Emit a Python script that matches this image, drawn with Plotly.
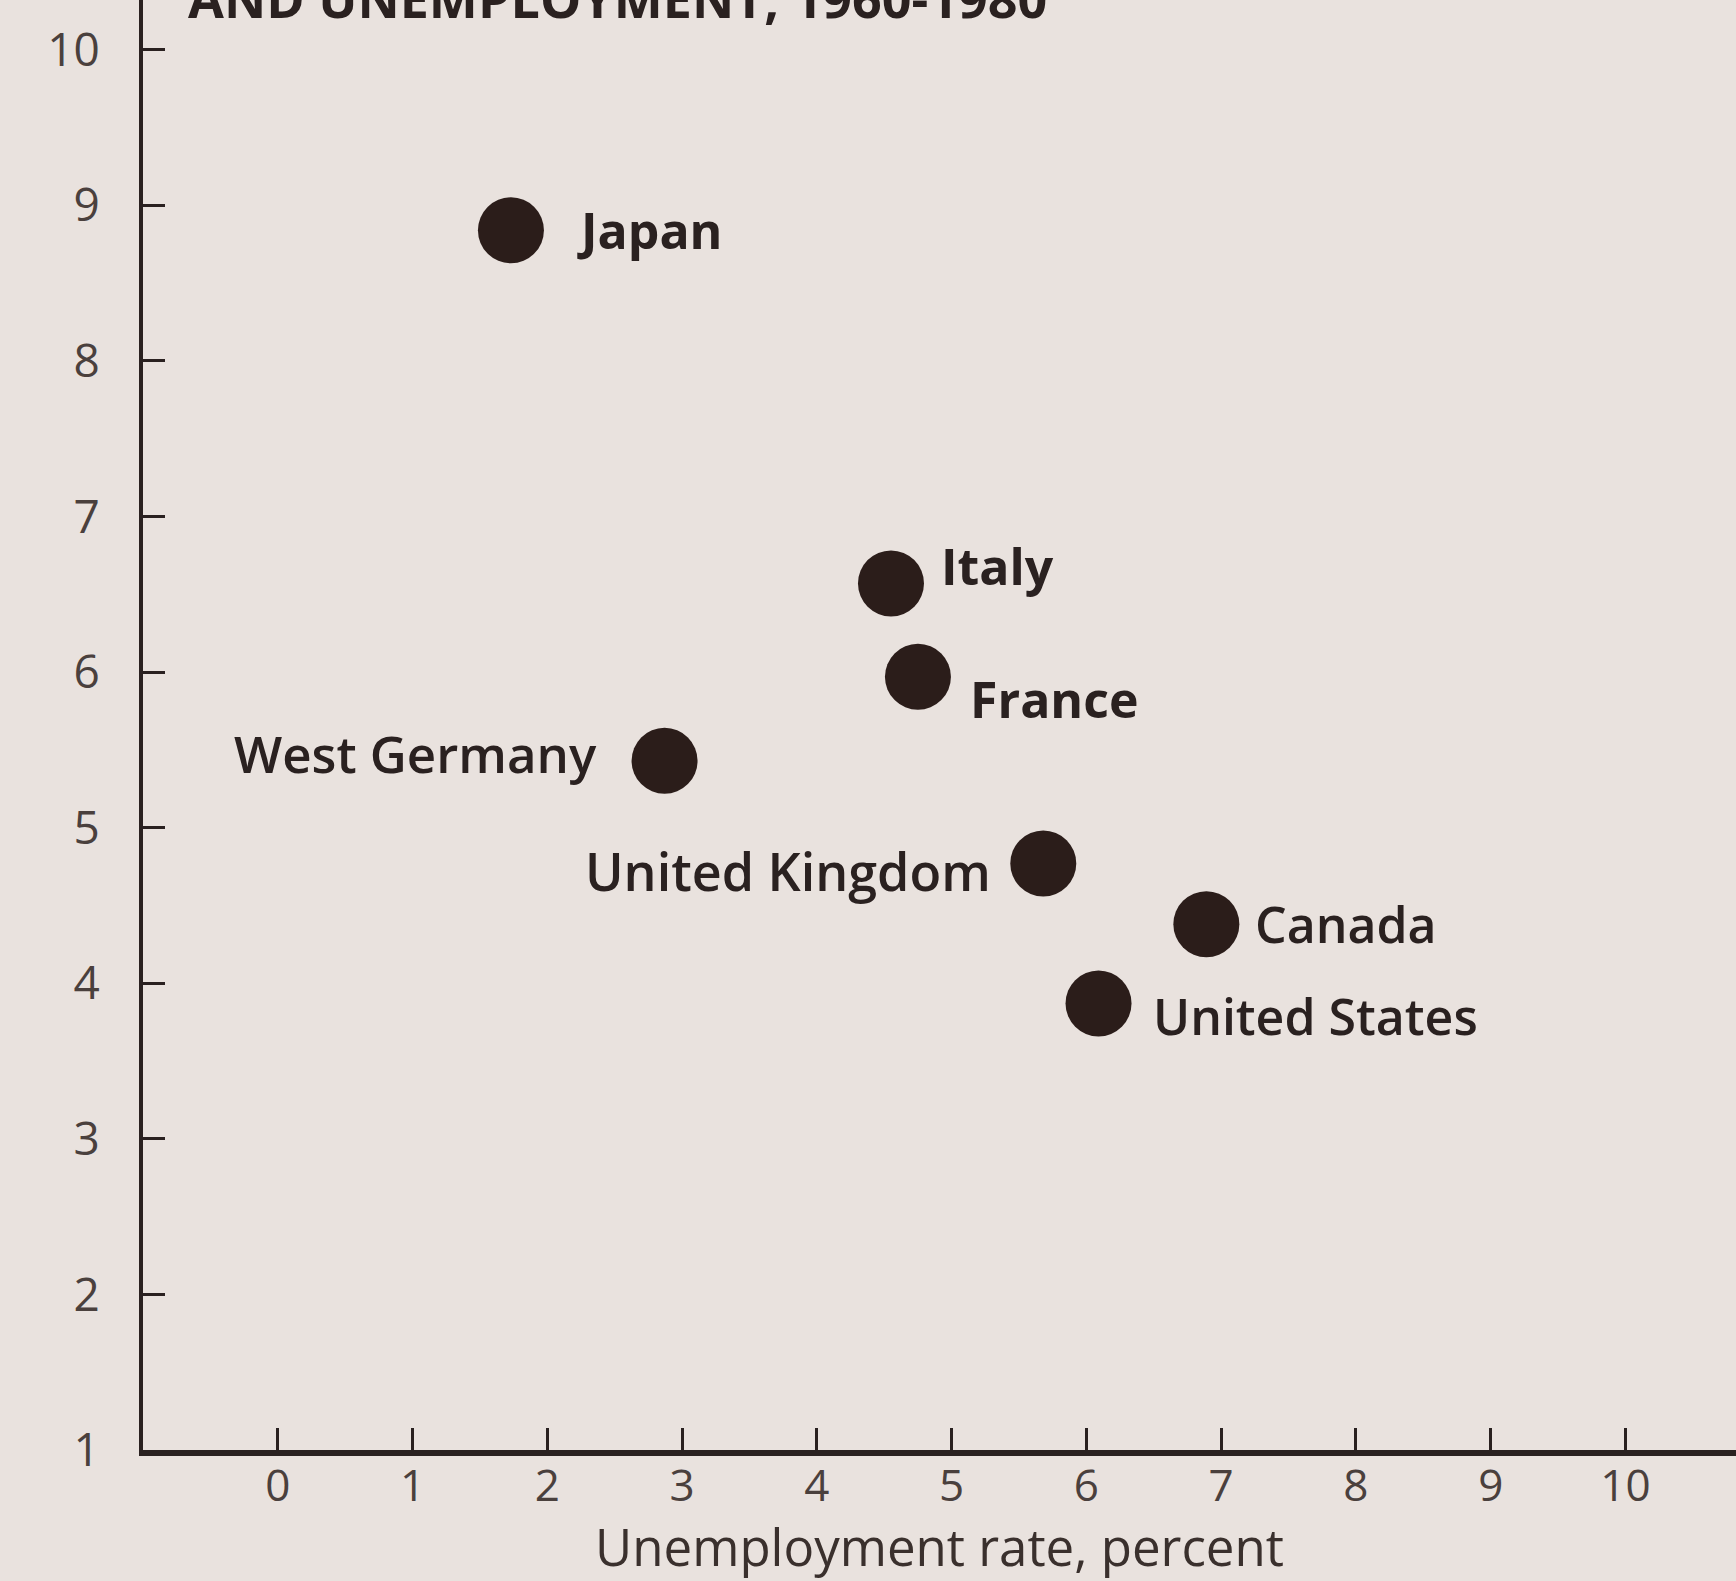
import plotly.graph_objects as go

# ---- data ----
countries = ["Japan", "Italy", "France", "West Germany", "United Kingdom", "Canada", "United States"]
unemployment = [1.73, 4.55, 4.75, 2.87, 5.68, 6.89, 6.09]
productivity = [8.84, 6.57, 5.97, 5.43, 4.77, 4.38, 3.87]

x_ticks = list(range(0, 11))
y_ticks = list(range(1, 11))

x_title = "Unemployment rate, percent"
top_title = "AND UNEMPLOYMENT, 1960-1980"

# ---- label styling (offsets in px, anchors) ----
label_anchor = ["left", "left", "left", "right", "right", "left", "left"]
label_xshift = [64, 48, 50, -66, -50, 47, 52]
label_yshift = [0, 17, -22, 8, -7, 0, -13]
label_weight = [700, 700, 700, 600, 600, 600, 600]
label_size = [50, 50, 50, 51, 52, 50, 50]

ink = "#2a2120"
paper = "#e9e2de"

fig = go.Figure()
fig.add_trace(go.Scatter(
    x=unemployment, y=productivity, mode="markers",
    marker=dict(size=66, color="#2b1d1a", line=dict(width=0)),
    hoverinfo="text", text=countries, showlegend=False,
))

annotations = []
for c, xv, yv, anc, xs, ys, w, s in zip(countries, unemployment, productivity,
                                         label_anchor, label_xshift, label_yshift,
                                         label_weight, label_size):
    annotations.append(dict(
        x=xv, y=yv, xref="x", yref="y", text=c, showarrow=False,
        xanchor=anc, yanchor="middle", xshift=xs, yshift=ys,
        font=dict(family="Open Sans", size=s, color=ink, weight=w),
    ))

annotations.append(dict(
    x=0.027, y=0.976, xref="paper", yref="paper", text=top_title, showarrow=False,
    xanchor="left", yanchor="bottom",
    font=dict(family="Open Sans", size=52, color=ink, weight=700),
))

fig.update_layout(
    width=1736, height=1581,
    margin=dict(l=143, r=0, t=0, b=131),
    paper_bgcolor=paper, plot_bgcolor=paper,
    annotations=annotations,
    font=dict(family="Open Sans", color=ink),
)

fig.update_xaxes(
    range=[-1.0, 10.82], tickvals=x_ticks, ticktext=[str(v) for v in x_ticks],
    showgrid=False, zeroline=False, showline=True, linecolor=ink, linewidth=6,
    ticks="inside", ticklen=22, tickwidth=3, tickcolor=ink,
    tickfont=dict(family="Open Sans", size=44, color="#4a403d"),
    ticklabelstandoff=-8,
    title=dict(text=x_title, font=dict(family="Open Sans", size=51, color="#3a302d"), standoff=12),
)
fig.update_yaxes(
    range=[1.0, 10.32], tickvals=y_ticks, ticktext=[str(v) for v in y_ticks],
    showgrid=False, zeroline=False, showline=True, linecolor=ink, linewidth=4,
    ticks="inside", ticklen=22, tickwidth=3, tickcolor=ink,
    tickfont=dict(family="Open Sans", size=46, color="#4a403d"),
    ticklabelstandoff=30,
)

fig.write_html(
    "out.html",
    config={"displayModeBar": False},
    post_script="document.body.style.margin='0';document.body.style.overflow='hidden';",
)
